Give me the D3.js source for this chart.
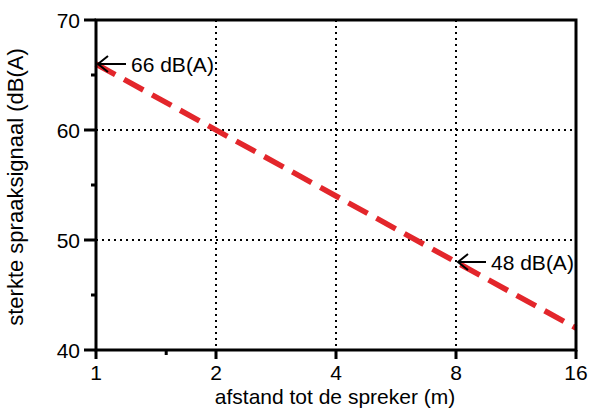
<!DOCTYPE html>
<html lang="nl">
<head>
<meta charset="UTF-8">
<title>spraaksignaal</title>
<script src="https://cdn.jsdelivr.net/npm/d3@7"></script>
<style>
    body { margin: 0; background: #fff; }
    svg { font-family: "Liberation Sans", Arial, Helvetica, sans-serif; }
    .grid { stroke: #000; stroke-width: 2px; stroke-dasharray: 2 4; fill: none; }
    .frame { stroke: #000; stroke-width: 3px; fill: none; }
    .tick-label { font-size: 21px; fill: #000; }
    .axis-title { font-size: 21px; fill: #000; }
</style>
</head>
<body>
<svg width="590" height="409"></svg>
<script>
    // data
    var xTicks = [1, 2, 4, 8, 16];
    var yTicks = [40, 50, 60, 70];
    var yMinor = [45, 55, 65];
    var xMinor = [1.5];
    var xGrid = [2, 4, 8];
    var yGrid = [50, 60];
    var lineX = [1, 16];
    var lineY = [66, 42];
    var notes = [
        { x: 1, y: 66, label: '66 dB(A)' },
        { x: 8, y: 48, label: '48 dB(A)' }
    ];

    var svg = d3.select('svg');

    var x = d3.scaleLog().base(2).domain([1, 16]).range([96, 576]);
    var y = d3.scaleLinear().domain([40, 70]).range([350, 20]);

    // grid
    svg.selectAll('.vgrid').data(xGrid).enter().append('line')
        .attr('class', 'grid')
        .attr('x1', function (d) { return x(d); })
        .attr('x2', function (d) { return x(d); })
        .attr('y1', y(70)).attr('y2', y(40));
    svg.selectAll('.hgrid').data(yGrid).enter().append('line')
        .attr('class', 'grid')
        .attr('x1', x(1)).attr('x2', x(16))
        .attr('y1', function (d) { return y(d); })
        .attr('y2', function (d) { return y(d); });

    // line
    svg.append('line')
        .attr('x1', x(lineX[0])).attr('y1', y(lineY[0]))
        .attr('x2', x(lineX[1])).attr('y2', y(lineY[1]))
        .attr('stroke', '#e3262b')
        .attr('stroke-width', 5.5)
        .attr('stroke-dasharray', '22 10');

    // frame
    svg.append('rect')
        .attr('class', 'frame')
        .attr('x', x(1)).attr('y', y(70))
        .attr('width', x(16) - x(1))
        .attr('height', y(40) - y(70));

    // y ticks
    svg.selectAll('.ytick').data(yTicks).enter().append('line')
        .attr('stroke', '#000').attr('stroke-width', 3)
        .attr('x1', x(1) - 12).attr('x2', x(1))
        .attr('y1', function (d) { return y(d); })
        .attr('y2', function (d) { return y(d); });
    svg.selectAll('.yminor').data(yMinor).enter().append('line')
        .attr('stroke', '#000').attr('stroke-width', 3)
        .attr('x1', x(1) - 5).attr('x2', x(1))
        .attr('y1', function (d) { return y(d); })
        .attr('y2', function (d) { return y(d); });
    svg.selectAll('.ylabel').data(yTicks).enter().append('text')
        .attr('class', 'tick-label')
        .attr('x', x(1) - 16)
        .attr('y', function (d) { return y(d) + 7.5; })
        .attr('text-anchor', 'end')
        .text(function (d) { return d; });

    // x ticks
    svg.selectAll('.xtick').data(xTicks).enter().append('line')
        .attr('stroke', '#000').attr('stroke-width', 3)
        .attr('x1', function (d) { return x(d); })
        .attr('x2', function (d) { return x(d); })
        .attr('y1', y(40)).attr('y2', y(40) + 9);
    svg.selectAll('.xminor').data(xMinor).enter().append('line')
        .attr('stroke', '#000').attr('stroke-width', 3)
        .attr('x1', function (d) { return x(d); })
        .attr('x2', function (d) { return x(d); })
        .attr('y1', y(40)).attr('y2', y(40) + 5);
    svg.selectAll('.xlabel').data(xTicks).enter().append('text')
        .attr('class', 'tick-label')
        .attr('x', function (d) { return x(d); })
        .attr('y', y(40) + 30)
        .attr('text-anchor', 'middle')
        .text(function (d) { return d; });

    // axis titles
    svg.append('text')
        .attr('class', 'axis-title')
        .attr('x', 335).attr('y', 404)
        .attr('text-anchor', 'middle')
        .text('afstand tot de spreker (m)');
    svg.append('text')
        .attr('class', 'axis-title')
        .style('font-size', '22px')
        .attr('transform', 'translate(23,187) rotate(-90)')
        .attr('text-anchor', 'middle')
        .text('sterkte spraaksignaal (dB(A)');

    // annotations: arrow pointing left onto the line
    notes.forEach(function (n) {
        var px = x(n.x) + 2, py = y(n.y);
        svg.append('line')
            .attr('x1', px + 28).attr('x2', px)
            .attr('y1', py).attr('y2', py)
            .attr('stroke', '#000').attr('stroke-width', 2);
        svg.append('path')
            .attr('d', d3.line()([[px + 10, py - 8], [px, py], [px + 10, py + 8]]))
            .attr('fill', 'none')
            .attr('stroke', '#000')
            .attr('stroke-width', 2);
        svg.append('text')
            .attr('class', 'tick-label')
            .attr('x', x(n.x) + 35)
            .attr('y', py + 7.5)
            .text(n.label);
    });
</script>
</body>
</html>
